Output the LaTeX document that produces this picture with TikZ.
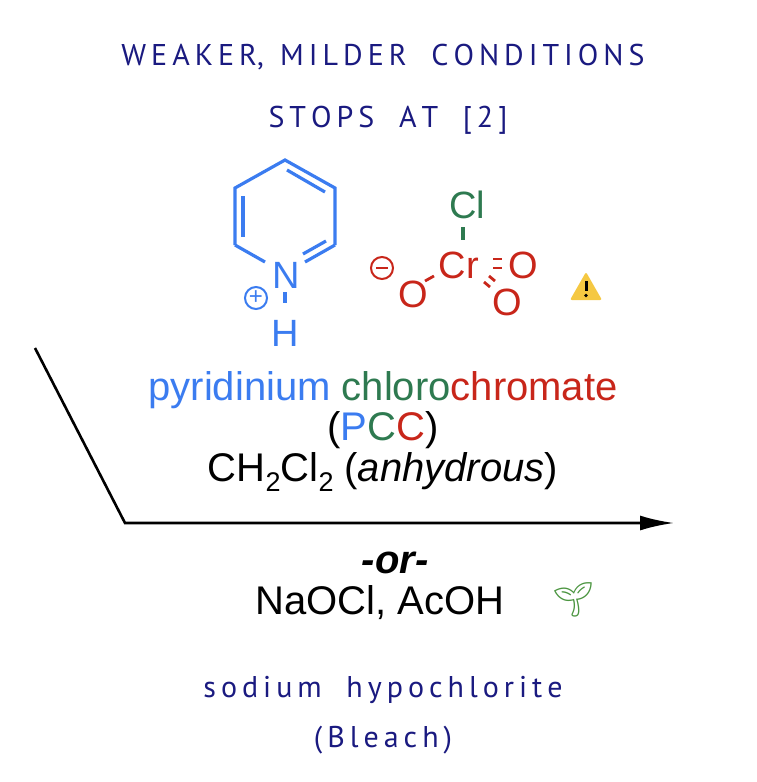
\documentclass[tikz,border=0pt]{standalone}
\usepackage{fontspec}
\usetikzlibrary{arrows.meta}
\setmainfont{Liberation Sans}
\newfontfamily\emo{Noto Emoji}
\newfontfamily\hand{PT Sans}
\definecolor{pblue}{HTML}{3B7CF0}
\definecolor{pgreen}{HTML}{2E7A50}
\definecolor{pred}{HTML}{C8261A}
\definecolor{navy}{HTML}{1A1A80}
\definecolor{warny}{HTML}{F5C842}
\newcommand{\sbs}[1]{\raisebox{-0.25em}{\fontsize{27}{27}\selectfont #1}}
\begin{document}
\begin{tikzpicture}[x=1pt,y=-1pt,
  hw/.style={text=navy,font=\hand\fontsize{30}{34}\selectfont},
  big/.style={font=\fontsize{40}{46}\selectfont,inner sep=0},
  atom/.style={font=\fontsize{38}{40}\selectfont,inner sep=0},
  bond/.style={line width=3.2pt}]
\useasboundingbox (0,0) rectangle (756,782);
\node[hw] (t1) at (383,57) {W\,E\,A\,K\,E\,R,\; M\,I\,L\,D\,E\,R\;\; C\,O\,N\,D\,I\,T\,I\,O\,N\,S};
\node[hw] (t2) at (388,120) {S\,T\,O\,P\,S\;\; A\,T\;\; [\,2\,]};
% pyridine
\begin{scope}[pblue,bond]
\coordinate (a) at (285,160); \coordinate (b) at (335,188); \coordinate (c) at (335,245);
\coordinate (e) at (235,245); \coordinate (f) at (235,188);
\draw (e) -- (f) -- (a) -- (b) -- (c);
\draw (c) -- (305,262); \draw (e) -- (265,262);
\draw (243,196) -- (243,237);
\draw (287,170) -- (325,192);
\draw (326,241) -- (303,254);
\draw (285,292) -- (285,303);
\end{scope}
\node[atom,text=pblue] (N) at (286,275) {N};
\node[atom,text=pblue] (H) at (285,333) {H};
\node[draw=pblue,circle,line width=2pt,minimum size=22pt,inner sep=0,text=pblue,font=\fontsize{24}{24}\selectfont] (plus) at (256,298) {+};
% chromate
\node[atom,text=pgreen] (Cl) at (467,205) {Cl};
\node[atom,text=pred] (Cr) at (459,265) {Cr};
\node[atom,text=pred] (O1) at (523,265) {O};
\node[atom,text=pred] (O2) at (507,302) {O};
\node[atom,text=pred] (O3) at (413,294) {O};
\node[draw=pred,circle,line width=2pt,minimum size=22pt,inner sep=0] (minus) at (382,268) {};
\draw[pred,line width=2pt] (376,268) -- (388,268);
\draw[pgreen,bond] (463,227) -- (463,240);
\draw[pred,line width=2.8pt] (493,259) -- (502,259) (493,268) -- (502,268);
\draw[pred,line width=2.8pt] (484,282) -- (490,287) (489,276) -- (495,281);
\draw[pred,line width=2.8pt] (425,281) -- (434,276);
% warning sign
\begin{scope}[shift={(586,287)}]
\fill[warny,rounded corners=2pt] (0,-15) -- (16,13) -- (-16,13) -- cycle;
\fill[black] (-1.5,-6) rectangle (1.5,4);
\fill[black] (0,8.5) circle (1.8);
\end{scope}
\coordinate (warn) at (586,287);
% names
\node[big] (name) at (383,390) {\textcolor{pblue}{pyridinium} \textcolor{pgreen}{chloro}\textcolor{pred}{chromate}};
\node[big] (pcc) at (383,430) {(\textcolor{pblue}{P}\textcolor{pgreen}{C}\textcolor{pred}{C})};
\node[big] (sol) at (383,472) {CH\sbs{2}Cl\sbs{2} (\textit{anhydrous})};
% arrow
\coordinate (s) at (35,348); \coordinate (k) at (125,523); \coordinate (t) at (674,523);
\draw[line width=2.6pt,-{Latex[length=34pt,width=15pt]}] (s) -- (k) -- (t);
\node[big,font=\bfseries\itshape\fontsize{40}{46}\selectfont] (or) at (395,563) {-or-};
\node[big] (na) at (380,603) {NaOCl, AcOH};
\node[text=pgreen!80!lime,font=\emo\fontsize{34}{34}\selectfont,inner sep=0] (sprout) at (573,600) {🌱};
\node[hw] (t3) at (383,690) {s\,o\,d\,i\,u\,m\;\; h\,y\,p\,o\,c\,h\,l\,o\,r\,i\,t\,e};
\node[hw] (t4) at (383,740) {(\,B\,l\,e\,a\,c\,h\,)};
\end{tikzpicture}
\end{document}
